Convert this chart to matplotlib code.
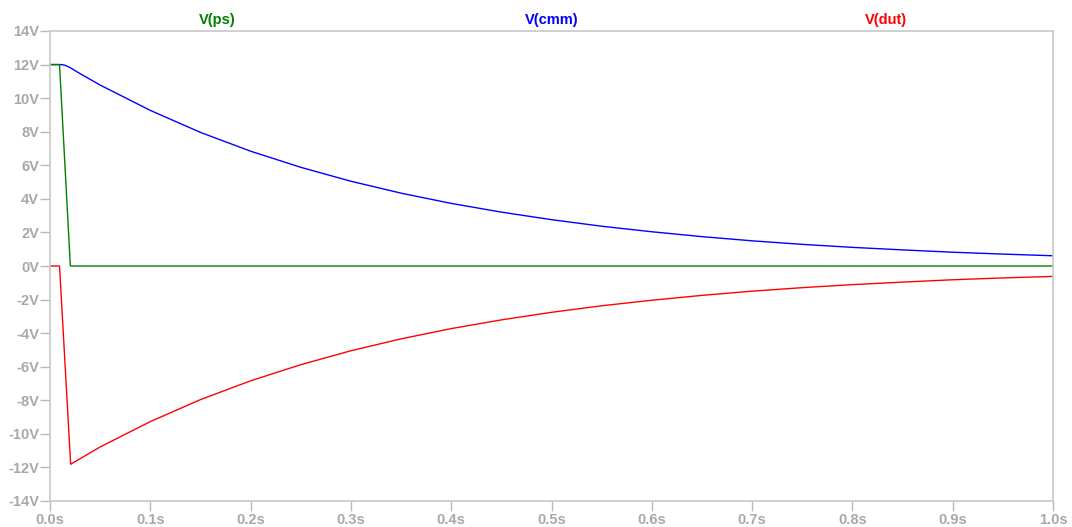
import matplotlib
matplotlib.use("Agg")
import matplotlib.pyplot as plt

# ---- data ----
t_ps = [0.0, 0.0095, 0.0203, 1.0]
v_ps = [12.0, 12.0, 0.0, 0.0]

t_dut = [0.0, 0.0095, 0.0206, 0.05, 0.1, 0.15, 0.2, 0.25, 0.3, 0.35, 0.4, 0.45,
         0.5, 0.55, 0.6, 0.65, 0.7, 0.75, 0.8, 0.85, 0.9, 0.95, 1.0]
v_dut = [0.0, 0.0, -11.81, -10.78, -9.27, -7.96, -6.84, -5.88, -5.05, -4.34,
         -3.73, -3.21, -2.76, -2.37, -2.04, -1.75, -1.50, -1.29, -1.11, -0.96,
         -0.82, -0.71, -0.62]

t_cmm = [0.0, 0.011, 0.015, 0.02, 0.03, 0.05, 0.1, 0.15, 0.2, 0.25, 0.3, 0.35,
         0.4, 0.45, 0.5, 0.55, 0.6, 0.65, 0.7, 0.75, 0.8, 0.85, 0.9, 0.95, 1.0]
v_cmm = [12.0, 12.0, 11.96, 11.82, 11.46, 10.78, 9.27, 7.96, 6.84, 5.88, 5.05,
         4.34, 3.73, 3.21, 2.76, 2.37, 2.04, 1.75, 1.50, 1.29, 1.11, 0.96, 0.82,
         0.71, 0.61]

y_ticks = [14, 12, 10, 8, 6, 4, 2, 0, -2, -4, -6, -8, -10, -12, -14]
y_labels = ["14V", "12V", "10V", "8V", "6V", "4V", "2V", "0V", "-2V", "-4V",
            "-6V", "-8V", "-10V", "-12V", "-14V"]
x_ticks = [0.0, 0.1, 0.2, 0.3, 0.4, 0.5, 0.6, 0.7, 0.8, 0.9, 1.0]
x_labels = ["0.0s", "0.1s", "0.2s", "0.3s", "0.4s", "0.5s", "0.6s", "0.7s",
            "0.8s", "0.9s", "1.0s"]

trace_names = ["V(ps)", "V(cmm)", "V(dut)"]
trace_colors = ["#008000", "#0000ff", "#ff0000"]

plt.rcParams['font.family'] = ['Liberation Sans', 'DejaVu Sans']

fig = plt.figure(figsize=(10.72, 5.27), dpi=100)
ax = fig.add_axes([50 / 1072, 26 / 527, 1003 / 1072, 470 / 527])

ax.plot(t_cmm, v_cmm, color=trace_colors[1], lw=1.0)
ax.plot(t_dut, v_dut, color=trace_colors[2], lw=1.0)
ax.plot(t_ps, v_ps, color=trace_colors[0], lw=1.0)

ax.set_xlim(0, 1.0)
ax.set_ylim(-14, 14)
ax.set_xticks(x_ticks)
ax.set_xticklabels(x_labels)
ax.set_yticks(y_ticks)
ax.set_yticklabels(y_labels)

tick_color = "#a8a8a8"
for lab in ax.get_xticklabels() + ax.get_yticklabels():
    lab.set_fontweight("bold")
    lab.set_fontsize(10.5)
    lab.set_color(tick_color)
ax.tick_params(axis='both', direction='out', length=7, width=1,
               color="#b8b8b8")
ax.tick_params(axis='y', pad=1)
ax.tick_params(axis='x', pad=2)

for side in ['left', 'bottom', 'top', 'right']:
    ax.spines[side].set_color("#c8c8c8")
    ax.spines[side].set_linewidth(1.2)

for i, (name, col) in enumerate(zip(trace_names, trace_colors)):
    xf = (i * 2 + 1) / 6.0
    ax.text(xf, 1.0 + 11 / 470, name, transform=ax.transAxes, color=col,
            fontsize=10.5, fontweight='bold', ha='center', va='center')

fig.savefig("out.png", dpi=100)
